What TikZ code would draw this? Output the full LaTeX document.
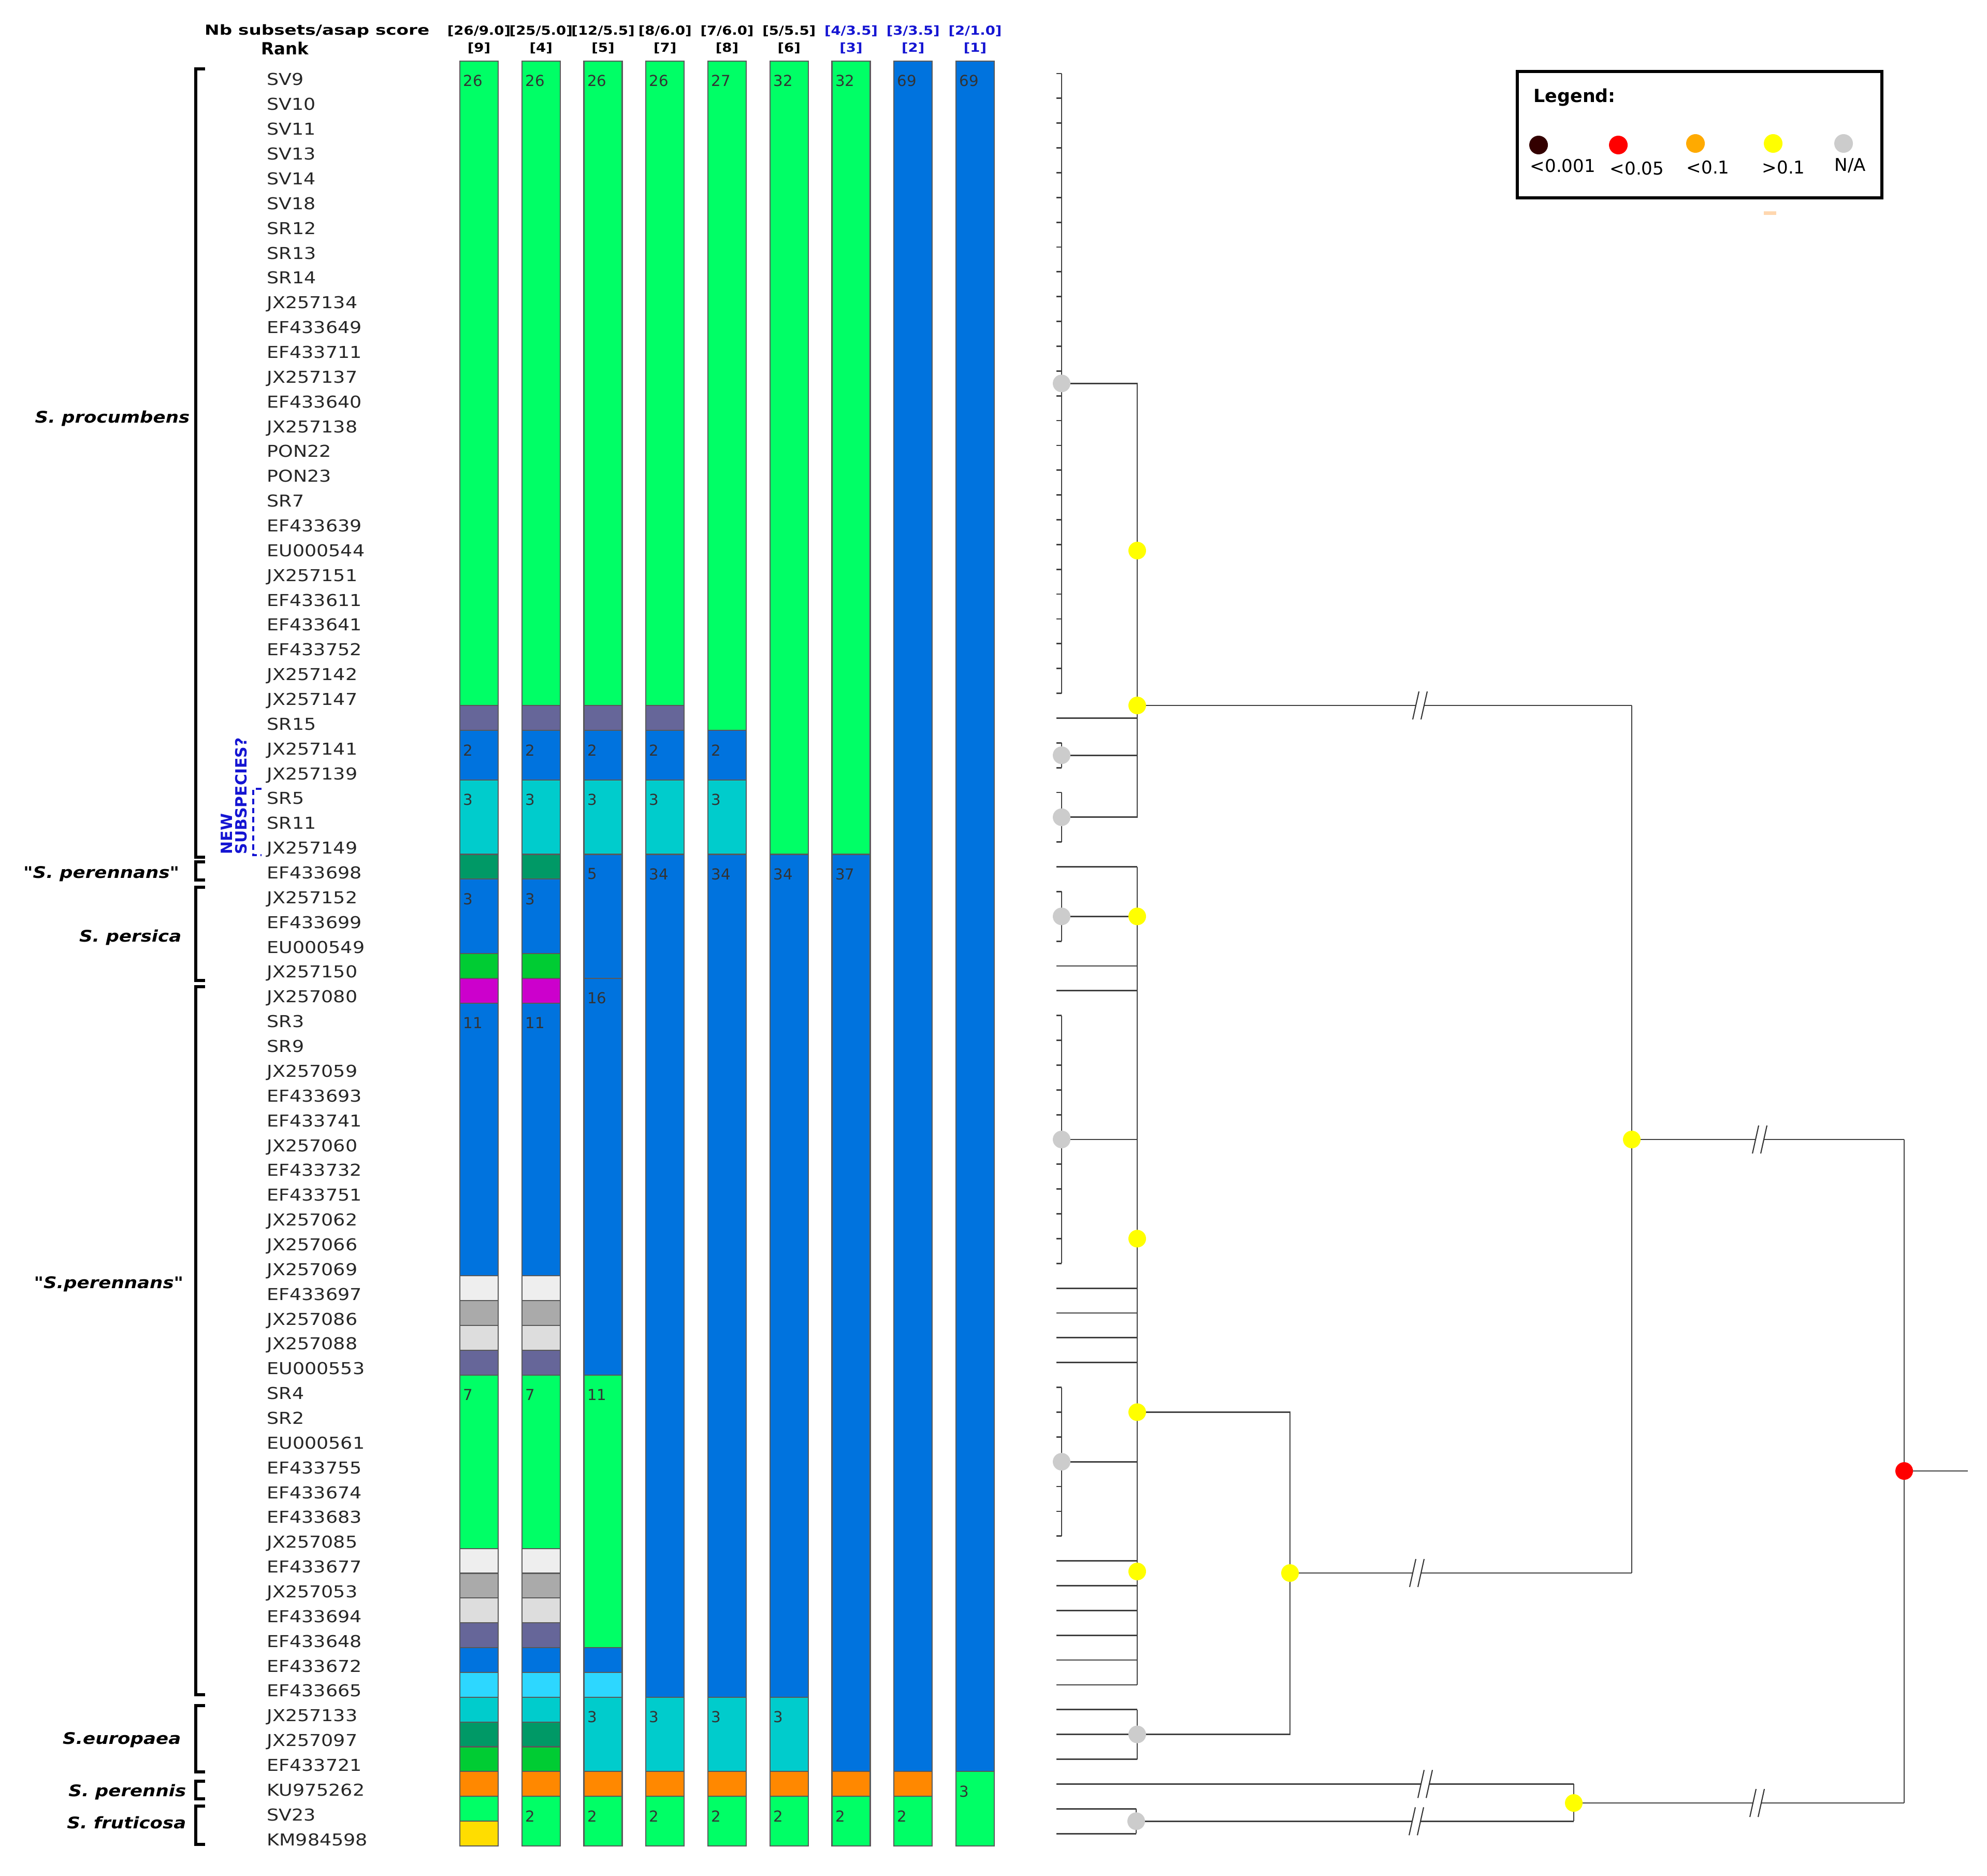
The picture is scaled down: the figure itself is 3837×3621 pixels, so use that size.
\documentclass[tikz,border=0pt]{standalone}
\usepackage{graphicx}
\usepackage{fontspec}
\setmainfont{DejaVu Sans}
\newfontfamily\wfont{DejaVu Sans}[FakeStretch=1.15]
\newfontfamily\hfont{DejaVu Sans}[FakeStretch=1.15]
\definecolor{cG}{RGB}{0,255,102}
\definecolor{cB}{RGB}{0,115,222}
\definecolor{cS}{RGB}{102,102,153}
\definecolor{cC}{RGB}{0,204,204}
\definecolor{cT}{RGB}{0,153,102}
\definecolor{cM}{RGB}{0,204,51}
\definecolor{cP}{RGB}{204,0,204}
\definecolor{cLa}{RGB}{238,238,238}
\definecolor{cLb}{RGB}{170,170,170}
\definecolor{cLc}{RGB}{221,221,221}
\definecolor{cLC}{RGB}{45,215,255}
\definecolor{cO}{RGB}{255,136,0}
\definecolor{cY}{RGB}{255,221,0}
\definecolor{hb}{RGB}{20,20,210}
\definecolor{dotY}{RGB}{255,255,0}
\definecolor{dotG}{RGB}{204,204,204}
\definecolor{dotR}{RGB}{255,0,0}
\definecolor{dotD}{RGB}{51,0,0}
\definecolor{dotO}{RGB}{255,170,0}
\definecolor{peach}{RGB}{255,215,175}
\newcommand\seg[5]{%
  \pgfmathsetmacro\sxl{888+119.75*(#1-1)}%
  \pgfmathsetmacro\syt{118+47.86*(#2-1)}%
  \pgfmathsetmacro\syb{118+47.86*(#3)}%
  \filldraw[segbox, fill=#4] (\sxl,\syt) rectangle ({\sxl+74},\syb);%
  \ifx\relax#5\relax\else\node[barlbl] (b#1-#2) at ({\sxl+6},{\syt+38}) {#5};\fi}
\newcommand\brkmark[2]{%
  \fill[white] ({#1-9.3},{#2+6})--({#1+6.7},{#2+6})--({#1+9.3},{#2-6})--({#1-6.7},{#2-6})--cycle;
  \draw[line width=0.6pt, black!80] ({#1-14},{#2+27})--({#1-2},{#2-27}) ({#1+2},{#2+27})--({#1+14},{#2-27});}
\def\Y#1{142+47.86*(#1-1)}
\begin{document}
\begin{tikzpicture}[x=0.01cm,y=-0.01cm,
  segbox/.style={draw=black!65, line width=0.6pt},
  barlbl/.style={anchor=west, inner sep=0, text=black!80, font=\fontsize{8.3}{9}\selectfont},
  taxon/.style={anchor=base west, inner sep=0, text=black!85, font=\wfont\fontsize{9}{10}\selectfont},
  grp/.style={anchor=base east, inner sep=0, font=\wfont\bfseries\itshape\fontsize{8.8}{10}\selectfont},
  colhdr/.style={inner sep=0, font=\hfont\bfseries\fontsize{6.8}{7}\selectfont},
  grpbr/.style={line width=1.5pt, black},
  tl/.style={line width=0.8pt, draw=black!75},
  dot/.style={circle, inner sep=0, minimum size=0.34cm},
  ydot/.style={dot, fill=dotY},
  gdot/.style={dot, fill=dotG},
  rdot/.style={dot, fill=dotR},
  ldot/.style={circle, inner sep=0, minimum size=0.36cm},
  leglbl/.style={anchor=west, inner sep=0, font=\fontsize{9.7}{11}\selectfont}]
\useasboundingbox (0,0) rectangle (3837,3621);

% ---------- headers ----------
\node[anchor=east, inner sep=0, font=\bfseries\fontsize{7.6}{8}\selectfont] (hdr1) at (830,60) {\scalebox{1.28}[1]{Nb subsets/asap score}};
\node[inner sep=0, font=\bfseries\fontsize{9.2}{10}\selectfont] (hdr2) at (550,93) {Rank};
\foreach \a/\b/\rk/\c [count=\k] in {26/9.0/9/black, 25/5.0/4/black, 12/5.5/5/black, 8/6.0/7/black, 7/6.0/8/black, 5/5.5/6/black, 4/3.5/3/hb, 3/3.5/2/hb, 2/1.0/1/hb}{
  \node[colhdr, text=\c] (h\k) at ({925+119.75*(\k-1)},60) {[\a/\b]};
  \node[colhdr, text=\c] (r\k) at ({925+119.75*(\k-1)},93) {[\rk]};
}

% ---------- taxon labels ----------
\foreach \n [count=\i] in {SV9,SV10,SV11,SV13,SV14,SV18,SR12,SR13,SR14,JX257134,EF433649,EF433711,JX257137,EF433640,JX257138,PON22,PON23,SR7,EF433639,EU000544,JX257151,EF433611,EF433641,EF433752,JX257142,JX257147,SR15,JX257141,JX257139,SR5,SR11,JX257149,EF433698,JX257152,EF433699,EU000549,JX257150,JX257080,SR3,SR9,JX257059,EF433693,EF433741,JX257060,EF433732,EF433751,JX257062,JX257066,JX257069,EF433697,JX257086,JX257088,EU000553,SR4,SR2,EU000561,EF433755,EF433674,EF433683,JX257085,EF433677,JX257053,EF433694,EF433648,EF433672,EF433665,JX257133,JX257097,EF433721,KU975262,SV23,KM984598}
  \node[taxon] (t\i) at (515,{142+47.86*(\i-1)+23}) {\n};

% ---------- group labels and brackets ----------
\node[grp] (g1) at (367,816) {S. procumbens};
\node[grp] (g2) at (347,1695) {"S. perennans"};
\node[grp] (g3) at (351,1818) {S. persica};
\node[grp] (g4) at (355,2487) {"S.perennans"};
\node[grp] (g5) at (350,3367) {S.europaea};
\node[grp] (g6) at (360,3468) {S. perennis};
\node[grp] (g7) at (360,3530) {S. fruticosa};
\draw[grpbr] (396,133)--(378,133)--(378,1655)--(396,1655);
\draw[grpbr] (396,1664)--(378,1664)--(378,1699)--(396,1699);
\draw[grpbr] (396,1713)--(378,1713)--(378,1893)--(396,1893);
\draw[grpbr] (396,1905)--(378,1905)--(378,3272)--(396,3272);
\draw[grpbr] (396,3293)--(378,3293)--(378,3421)--(396,3421);
\draw[grpbr] (396,3439)--(378,3439)--(378,3473)--(396,3473);
\draw[grpbr] (396,3487)--(378,3487)--(378,3561)--(396,3561);

\node[rotate=90, anchor=south west, align=left, inner sep=0, text=hb, font=\bfseries\fontsize{8.5}{8}\selectfont] (newsub) at (478,1650) {NEW\\SUBSPECIES?};
\draw[hb, line width=0.9pt, dash pattern=on 3pt off 2pt] (505,1523)--(489,1523)--(489,1651)--(505,1651);

% ---------- bars ----------
% column 1
\seg{1}{1}{26}{cG}{26}\seg{1}{27}{27}{cS}{}\seg{1}{28}{29}{cB}{2}\seg{1}{30}{32}{cC}{3}
\seg{1}{33}{33}{cT}{}\seg{1}{34}{36}{cB}{3}\seg{1}{37}{37}{cM}{}\seg{1}{38}{38}{cP}{}
\seg{1}{39}{49}{cB}{11}\seg{1}{50}{50}{cLa}{}\seg{1}{51}{51}{cLb}{}\seg{1}{52}{52}{cLc}{}
\seg{1}{53}{53}{cS}{}\seg{1}{54}{60}{cG}{7}\seg{1}{61}{61}{cLa}{}\seg{1}{62}{62}{cLb}{}
\seg{1}{63}{63}{cLc}{}\seg{1}{64}{64}{cS}{}\seg{1}{65}{65}{cB}{}\seg{1}{66}{66}{cLC}{}
\seg{1}{67}{67}{cC}{}\seg{1}{68}{68}{cT}{}\seg{1}{69}{69}{cM}{}\seg{1}{70}{70}{cO}{}
\seg{1}{71}{71}{cG}{}\seg{1}{72}{72}{cY}{}
% column 2
\seg{2}{1}{26}{cG}{26}\seg{2}{27}{27}{cS}{}\seg{2}{28}{29}{cB}{2}\seg{2}{30}{32}{cC}{3}
\seg{2}{33}{33}{cT}{}\seg{2}{34}{36}{cB}{3}\seg{2}{37}{37}{cM}{}\seg{2}{38}{38}{cP}{}
\seg{2}{39}{49}{cB}{11}\seg{2}{50}{50}{cLa}{}\seg{2}{51}{51}{cLb}{}\seg{2}{52}{52}{cLc}{}
\seg{2}{53}{53}{cS}{}\seg{2}{54}{60}{cG}{7}\seg{2}{61}{61}{cLa}{}\seg{2}{62}{62}{cLb}{}
\seg{2}{63}{63}{cLc}{}\seg{2}{64}{64}{cS}{}\seg{2}{65}{65}{cB}{}\seg{2}{66}{66}{cLC}{}
\seg{2}{67}{67}{cC}{}\seg{2}{68}{68}{cT}{}\seg{2}{69}{69}{cM}{}\seg{2}{70}{70}{cO}{}
\seg{2}{71}{72}{cG}{2}
% column 3
\seg{3}{1}{26}{cG}{26}\seg{3}{27}{27}{cS}{}\seg{3}{28}{29}{cB}{2}\seg{3}{30}{32}{cC}{3}
\seg{3}{33}{37}{cB}{5}\seg{3}{38}{53}{cB}{16}\seg{3}{54}{64}{cG}{11}\seg{3}{65}{65}{cB}{}
\seg{3}{66}{66}{cLC}{}\seg{3}{67}{69}{cC}{3}\seg{3}{70}{70}{cO}{}\seg{3}{71}{72}{cG}{2}
% column 4
\seg{4}{1}{26}{cG}{26}\seg{4}{27}{27}{cS}{}\seg{4}{28}{29}{cB}{2}\seg{4}{30}{32}{cC}{3}
\seg{4}{33}{66}{cB}{34}\seg{4}{67}{69}{cC}{3}\seg{4}{70}{70}{cO}{}\seg{4}{71}{72}{cG}{2}
% column 5
\seg{5}{1}{27}{cG}{27}\seg{5}{28}{29}{cB}{2}\seg{5}{30}{32}{cC}{3}
\seg{5}{33}{66}{cB}{34}\seg{5}{67}{69}{cC}{3}\seg{5}{70}{70}{cO}{}\seg{5}{71}{72}{cG}{2}
% column 6
\seg{6}{1}{32}{cG}{32}\seg{6}{33}{66}{cB}{34}\seg{6}{67}{69}{cC}{3}\seg{6}{70}{70}{cO}{}\seg{6}{71}{72}{cG}{2}
% column 7
\seg{7}{1}{32}{cG}{32}\seg{7}{33}{69}{cB}{37}\seg{7}{70}{70}{cO}{}\seg{7}{71}{72}{cG}{2}
% column 8
\seg{8}{1}{69}{cB}{69}\seg{8}{70}{70}{cO}{}\seg{8}{71}{72}{cG}{2}
% column 9
\seg{9}{1}{69}{cB}{69}\seg{9}{70}{72}{cG}{3}

% ---------- tree ----------
\foreach \r in {1,...,26,28,29,30,31,32,34,35,36,39,40,...,49,54,55,...,60}
  \draw[tl] (2040,{\Y{\r}}) -- (2050,{\Y{\r}});
\draw[tl] (2050,{\Y{1}}) -- (2050,{\Y{26}});
\draw[tl] (2050,{\Y{28}}) -- (2050,{\Y{29}});
\draw[tl] (2050,{\Y{30}}) -- (2050,{\Y{32}});
\draw[tl] (2050,{\Y{34}}) -- (2050,{\Y{36}});
\draw[tl] (2050,{\Y{39}}) -- (2050,{\Y{49}});
\draw[tl] (2050,{\Y{54}}) -- (2050,{\Y{60}});
\foreach \r in {27,33,37,38,50,51,52,53,61,62,63,64,65,66,67,68,69}
  \draw[tl] (2040,{\Y{\r}}) -- (2196,{\Y{\r}});
\foreach \r in {71,72}
  \draw[tl] (2040,{\Y{\r}}) -- (2194,{\Y{\r}});
\coordinate (nA0) at (2050,{\Y{13.5}});
\coordinate (nA1) at (2050,{\Y{28.5}});
\coordinate (nA2) at (2050,{\Y{31}});
\coordinate (nB1) at (2050,{\Y{35}});
\coordinate (nB2) at (2050,{\Y{44}});
\coordinate (nB3) at (2050,{\Y{57}});
\coordinate (nA) at (2196,1362);
\coordinate (nAs) at (2196,1063);
\coordinate (nBs1) at (2196,{\Y{35}});
\coordinate (nBs2) at (2196,{\Y{48}});
\coordinate (nB) at (2196,{\Y{55}});
\coordinate (nBs3) at (2196,3034);
\coordinate (nE) at (2196,{\Y{68}});
\coordinate (nF) at (2194,{\Y{71.5}});
\coordinate (nBE) at (2491,3037);
\coordinate (nAB) at (3151,2200);
\coordinate (nPF) at (3039,3481);
\coordinate (nR) at (3677,2840);
\coordinate (rootend) at (3800,2840);
\draw[tl] (nA0) -- (2196,{\Y{13.5}}) -- (2196,{\Y{31}}) -- (nA2);
\draw[tl] (nA1) -- (2196,{\Y{28.5}});
\draw[tl] (nA) -- (3151,1362);
\brkmark{2742}{1362}
\draw[tl] (2196,{\Y{33}}) -- (2196,{\Y{66}});
\draw[tl] (nB1) -- (nBs1);
\draw[tl] (nB2) -- (2196,{\Y{44}});
\draw[tl] (nB3) -- (2196,{\Y{57}});
\draw[tl] (2196,{\Y{67}}) -- (2196,{\Y{69}});
\draw[tl] (nB) -- (2491,{\Y{55}}) -- (2491,{\Y{68}}) -- (nE);
\draw[tl] (nBE) -- (3151,3037);
\brkmark{2736}{3037}
\draw[tl] (3151,1362) -- (3151,3037);
\draw[tl] (nAB) -- (3677,2200);
\brkmark{3398}{2200}
\draw[tl] (2040,{\Y{70}}) -- (3039,{\Y{70}});
\brkmark{2752}{3444.3}
\draw[tl] (2194,{\Y{71}}) -- (2194,{\Y{72}});
\draw[tl] (nF) -- (3039,{\Y{71.5}});
\brkmark{2735}{3516.3}
\draw[tl] (3039,{\Y{70}}) -- (3039,{\Y{71.5}});
\draw[tl] (nPF) -- (3677,3481);
\brkmark{3393}{3481}
\draw[tl] (3677,2200) -- (3677,3481);
\draw[tl] (nR) -- (rootend);
\foreach \p in {nA0,nA1,nA2,nB1,nB2,nB3,nE,nF}
  \node[gdot] (d-\p) at (\p) {};
\foreach \p in {nAs,nA,nBs1,nBs2,nB,nBs3,nBE,nAB,nPF}
  \node[ydot] (d-\p) at (\p) {};
\node[rdot] (d-nR) at (nR) {};

% ---------- legend ----------
\node[draw, line width=1.7pt, minimum width=7.04cm, minimum height=2.44cm, anchor=north west, inner sep=0] (legend) at (2927,135) {};
\node[anchor=west, inner sep=0, font=\bfseries\fontsize{9.9}{11}\selectfont] (legtitle) at (2961,188) {Legend:};
\node[ldot, fill=dotD] (l1) at (2971,280) {};
\node[ldot, fill=dotR] (l2) at (3125,280) {};
\node[ldot, fill=dotO] (l3) at (3274,277) {};
\node[ldot, fill=dotY] (l4) at (3424,277) {};
\node[ldot, fill=dotG] (l5) at (3560,277) {};
\node[leglbl] (lt1) at (2954,320) {<0.001};
\node[leglbl] (lt2) at (3108,325) {<0.05};
\node[leglbl] (lt3) at (3256,323) {<0.1};
\node[leglbl] (lt4) at (3402,323) {>0.1};
\node[leglbl] (lt5) at (3542,320) {N/A};
\fill[peach] (3406,408) rectangle (3430,415);
\end{tikzpicture}
\end{document}
